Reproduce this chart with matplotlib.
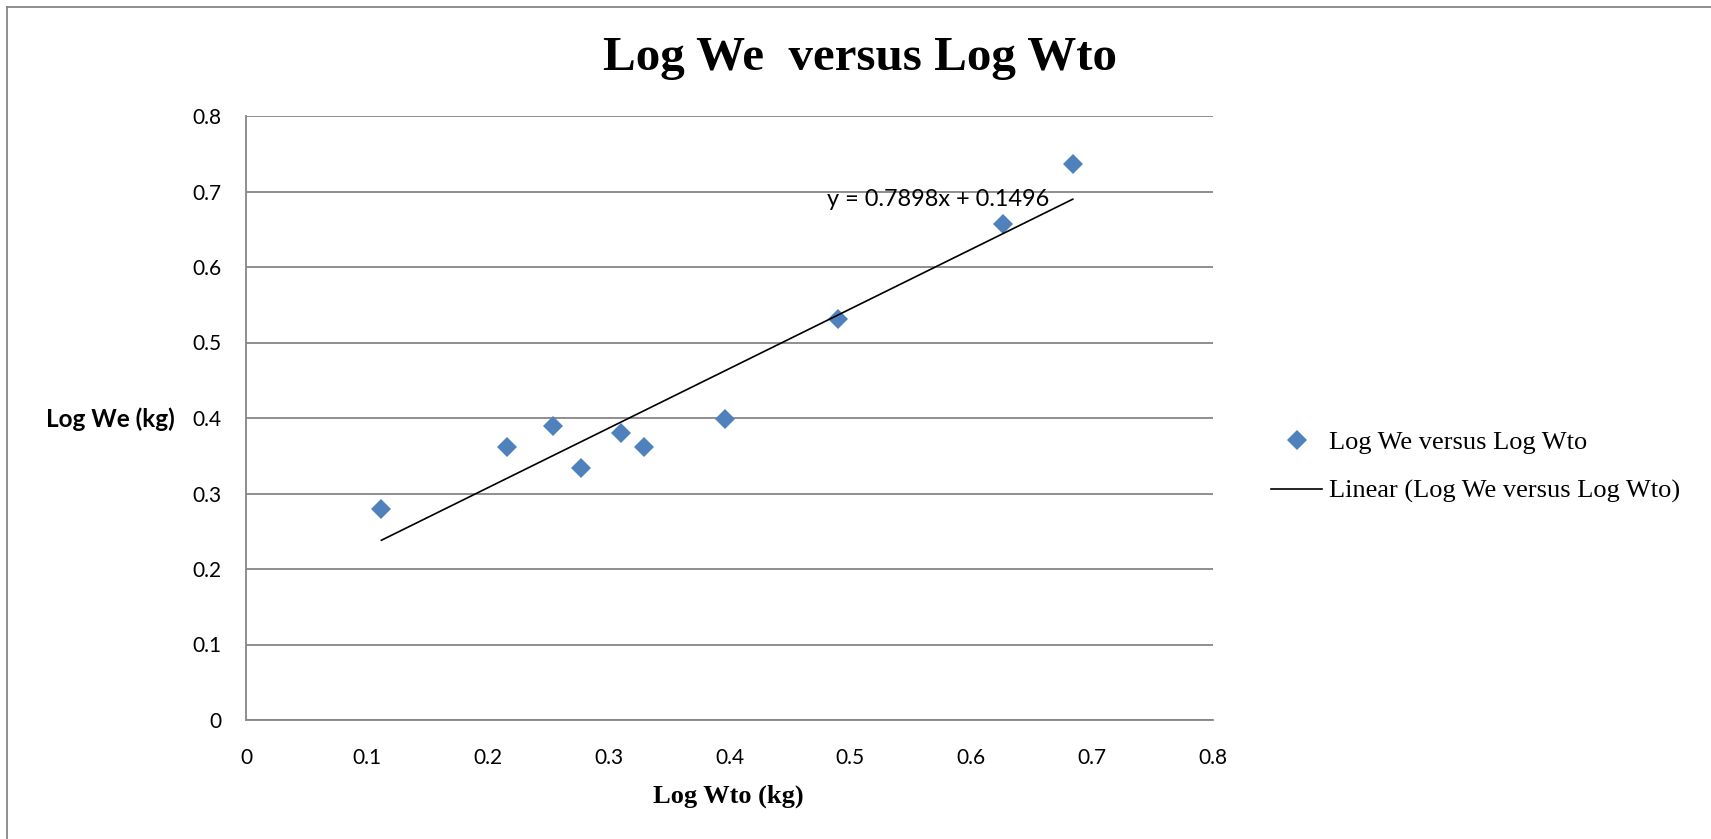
import numpy as np
import matplotlib
matplotlib.use("Agg")
import matplotlib.pyplot as plt
from matplotlib.lines import Line2D

# Log of take-off weight and log of empty weight (kg)
log_wto = [0.112, 0.216, 0.254, 0.277, 0.310, 0.329, 0.396, 0.490, 0.626, 0.684]
log_we = [0.280, 0.362, 0.390, 0.334, 0.380, 0.362, 0.399, 0.531, 0.657, 0.736]

# Linear trendline coefficients
slope = 0.7898
intercept = 0.1496

x_ticks = [0, 0.1, 0.2, 0.3, 0.4, 0.5, 0.6, 0.7, 0.8]
y_ticks = [0, 0.1, 0.2, 0.3, 0.4, 0.5, 0.6, 0.7, 0.8]
x_tick_labels = ["0", "0.1", "0.2", "0.3", "0.4", "0.5", "0.6", "0.7", "0.8"]
y_tick_labels = ["0", "0.1", "0.2", "0.3", "0.4", "0.5", "0.6", "0.7", "0.8"]

W, H = 1711, 839
DPI = 100
SERIF = "Liberation Serif"
SANS = "Lato"
GRID = "#868686"
BLUE = "#4F81BD"

fig = plt.figure(figsize=(W / DPI, H / DPI), dpi=DPI)
fig.patch.set_facecolor("white")

# outer chart frame (left and top edges)
fig.add_artist(Line2D([7 / W, 7 / W], [0, 1 - 7 / H], color=GRID, lw=1.3,
                      transform=fig.transFigure))
fig.add_artist(Line2D([7 / W, 1], [1 - 7 / H, 1 - 7 / H], color=GRID, lw=1.3,
                      transform=fig.transFigure))

left, right, top, bottom = 246, 1213, 116, 720
ax = fig.add_axes([left / W, 1 - bottom / H, (right - left) / W, (bottom - top) / H])

ax.set_xlim(0, 0.8)
ax.set_ylim(0, 0.8)
ax.set_xticks(x_ticks)
ax.set_yticks(y_ticks)
ax.set_xticklabels(x_tick_labels, fontfamily=SANS, fontsize=15)
ax.set_yticklabels(y_tick_labels, fontfamily=SANS, fontsize=15)
ax.tick_params(axis="x", length=0, pad=20)
ax.tick_params(axis="y", length=0, pad=18)

for s in ("top", "right"):
    ax.spines[s].set_visible(False)
for s in ("left", "bottom"):
    ax.spines[s].set_color(GRID)
    ax.spines[s].set_linewidth(1.3)
ax.yaxis.grid(True, color=GRID, lw=1.3)
ax.set_axisbelow(True)

pts, = ax.plot(log_wto, log_we, linestyle="none", marker="D", markersize=10,
               color=BLUE, markeredgewidth=0, label="Log We versus Log Wto", zorder=3)

fit_x = np.array([min(log_wto), max(log_wto)])
fit_y = slope * fit_x + intercept
fit_line, = ax.plot(fit_x, fit_y, color="black", lw=1.2,
                    label="Linear (Log We versus Log Wto)", zorder=4)

ax.text(0.5725, 0.689, f"y = {slope:.4f}x + {intercept:.4f}", fontfamily=SANS,
        fontsize=16.9, ha="center", va="center", zorder=5)

fig.text(860 / W, 1 - 69.5 / H, "Log We  versus Log Wto", fontfamily=SERIF,
         fontweight="bold", fontsize=35.3, ha="center", va="baseline")
fig.text(46 / W, 1 - 427 / H, "Log We (kg)", fontfamily=SANS, fontweight="bold",
         fontsize=17.5, ha="left", va="baseline")
fig.text(728 / W, 1 - 803 / H, "Log Wto (kg)", fontfamily=SERIF, fontweight="bold",
         fontsize=19, ha="center", va="baseline")

fig.legend(handles=[pts, fit_line], loc="upper left",
           bbox_to_anchor=(1271 / W, 1 - 431 / H), bbox_transform=fig.transFigure,
           frameon=False, prop={"family": SERIF, "size": 19},
           handlelength=1.95, handletextpad=0.25, labelspacing=0.95,
           borderpad=0, borderaxespad=0)

fig.savefig("out.png", dpi=DPI, facecolor="white")
